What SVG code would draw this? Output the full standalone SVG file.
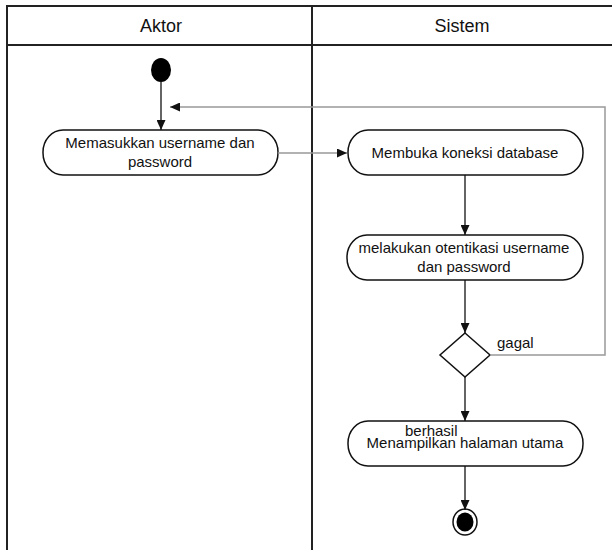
<svg xmlns="http://www.w3.org/2000/svg" width="612" height="550" viewBox="0 0 612 550">
<style>
text{font-family:"Liberation Sans",Arial,sans-serif;fill:#111}
.hdr{font-size:18px;text-anchor:middle}
.lbl{font-size:15px;text-anchor:middle}
.small{font-size:15px}
.frame{stroke:#222;stroke-width:2;fill:none}
.node{fill:#fff;stroke:#111;stroke-width:1.5}
.edge{stroke:#111;stroke-width:1.3;fill:none}
.gray{stroke:#999;stroke-width:1.5;fill:none}
</style>
<defs>
<marker id="arr" markerWidth="10" markerHeight="9" refX="10" refY="4.5" orient="auto" markerUnits="userSpaceOnUse">
<path d="M0,0 L10,4.5 L0,9 Z" fill="#111"/>
</marker>
</defs>
<rect width="612" height="550" fill="#fff"/>
<g id="swimlanes">
<path class="frame" d="M7,550 V6 H612 M7,45 H612 M312,6 V550"/>
<text class="hdr" x="161" y="32">Aktor</text>
<text class="hdr" x="462" y="32">Sistem</text>
</g>
<g id="start">
<ellipse cx="161" cy="70" rx="10" ry="12" fill="#000"/>
</g>
<g id="n1">
<rect class="node" x="43" y="130" width="235" height="45" rx="20" ry="22"/>
<text class="lbl" x="160" y="148">Memasukkan username dan</text>
<text class="lbl" x="160" y="167">password</text>
</g>
<g id="n2">
<rect class="node" x="348" y="130" width="235" height="45" rx="20" ry="22"/>
<text class="lbl" x="465" y="158">Membuka koneksi database</text>
</g>
<g id="n3">
<rect class="node" x="347" y="235" width="236" height="45" rx="20" ry="22"/>
<text class="lbl" x="464" y="253">melakukan otentikasi username</text>
<text class="lbl" x="464" y="272">dan password</text>
</g>
<g id="decision">
<path class="node" d="M465,333 L490,355 L465,377 L440,355 Z"/>
</g>
<g id="n4">
<rect class="node" x="348" y="421" width="235" height="45" rx="20" ry="22"/>
<text class="lbl" x="465" y="448">Menampilkan halaman utama</text>
</g>
<g id="end">
<ellipse cx="465" cy="522" rx="12" ry="13" fill="#fff" stroke="#111" stroke-width="1.5"/>
<ellipse cx="465" cy="522" rx="8.5" ry="9.5" fill="#000"/>
</g>
<g id="connectors">
<path class="edge" d="M161,82 V130" marker-end="url(#arr)"/>
<path class="gray" d="M278,153 H347" marker-end="url(#arr)"/>
<path class="edge" d="M465,175 V235" marker-end="url(#arr)"/>
<path class="edge" d="M465,280 V333" marker-end="url(#arr)"/>
<path class="edge" d="M465,377 V421" marker-end="url(#arr)"/>
<path class="gray" d="M490,355 H605 V107 H170" marker-end="url(#arr)"/>
<path class="edge" d="M465,466 V510" marker-end="url(#arr)"/>
<text class="small" x="497" y="348">gagal</text>
<text class="small" x="405" y="436">berhasil</text>
</g>
</svg>
